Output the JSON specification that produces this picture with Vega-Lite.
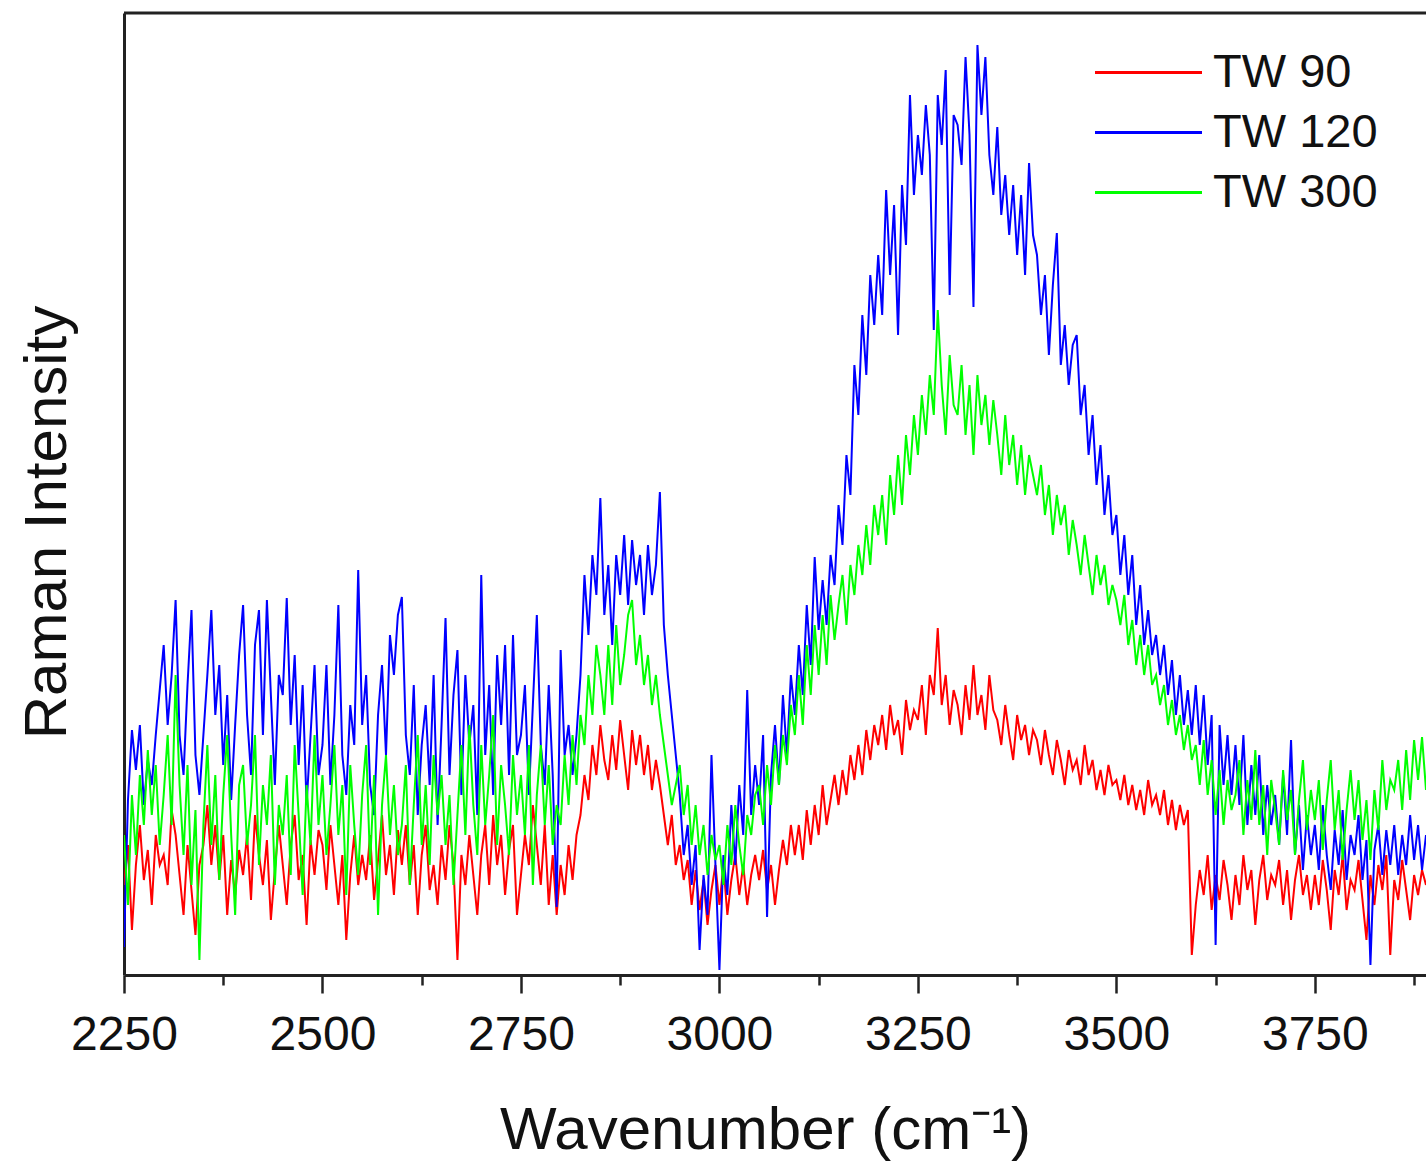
{
"$schema": "https://vega.github.io/schema/vega-lite/v6.json",
"width": 1302, "height": 962,
"autosize": {"type": "none"},
"padding": {"left": 124, "top": 13, "right": 0, "bottom": 190},
"background": "white",
"config": {"view": {"stroke": null}, "font": "Liberation Sans"},
"layer": [
{
"data": {"values": [
{"x":2250,"TW 90":90,"TW 120":28,"TW 300":140},
{"x":2255,"TW 90":130,"TW 120":175,"TW 300":70},
{"x":2260,"TW 90":45,"TW 120":245,"TW 300":180},
{"x":2265,"TW 90":110,"TW 120":205,"TW 300":120},
{"x":2270,"TW 90":150,"TW 120":250,"TW 300":200},
{"x":2275,"TW 90":95,"TW 120":170,"TW 300":150},
{"x":2280,"TW 90":125,"TW 120":215,"TW 300":225},
{"x":2285,"TW 90":70,"TW 120":190,"TW 300":160},
{"x":2290,"TW 90":140,"TW 120":240,"TW 300":210},
{"x":2295,"TW 90":110,"TW 120":285,"TW 300":130},
{"x":2300,"TW 90":120,"TW 120":330,"TW 300":180},
{"x":2305,"TW 90":90,"TW 120":250,"TW 300":240},
{"x":2310,"TW 90":165,"TW 120":300,"TW 300":150},
{"x":2315,"TW 90":140,"TW 120":375,"TW 300":300},
{"x":2320,"TW 90":100,"TW 120":240,"TW 300":190},
{"x":2325,"TW 90":60,"TW 120":200,"TW 300":120},
{"x":2330,"TW 90":130,"TW 120":290,"TW 300":210},
{"x":2335,"TW 90":85,"TW 120":365,"TW 300":90},
{"x":2340,"TW 90":40,"TW 120":220,"TW 300":165},
{"x":2345,"TW 90":110,"TW 120":180,"TW 300":15},
{"x":2350,"TW 90":130,"TW 120":240,"TW 300":150},
{"x":2355,"TW 90":170,"TW 120":300,"TW 300":230},
{"x":2360,"TW 90":110,"TW 120":365,"TW 300":130},
{"x":2365,"TW 90":150,"TW 120":260,"TW 300":200},
{"x":2370,"TW 90":95,"TW 120":310,"TW 300":95},
{"x":2375,"TW 90":140,"TW 120":210,"TW 300":180},
{"x":2380,"TW 90":60,"TW 120":280,"TW 300":240},
{"x":2385,"TW 90":115,"TW 120":175,"TW 300":140},
{"x":2390,"TW 90":80,"TW 120":250,"TW 300":60},
{"x":2395,"TW 90":125,"TW 120":320,"TW 300":190},
{"x":2400,"TW 90":100,"TW 120":370,"TW 300":210},
{"x":2405,"TW 90":140,"TW 120":260,"TW 300":130},
{"x":2410,"TW 90":75,"TW 120":200,"TW 300":170},
{"x":2415,"TW 90":160,"TW 120":330,"TW 300":240},
{"x":2420,"TW 90":120,"TW 120":365,"TW 300":110},
{"x":2425,"TW 90":90,"TW 120":240,"TW 300":190},
{"x":2430,"TW 90":135,"TW 120":375,"TW 300":150},
{"x":2435,"TW 90":55,"TW 120":280,"TW 300":220},
{"x":2440,"TW 90":105,"TW 120":190,"TW 300":90},
{"x":2445,"TW 90":150,"TW 120":300,"TW 300":170},
{"x":2450,"TW 90":110,"TW 120":280,"TW 300":140},
{"x":2455,"TW 90":70,"TW 120":377,"TW 300":200},
{"x":2460,"TW 90":130,"TW 120":250,"TW 300":100},
{"x":2465,"TW 90":160,"TW 120":320,"TW 300":230},
{"x":2470,"TW 90":95,"TW 120":210,"TW 300":160},
{"x":2475,"TW 90":120,"TW 120":290,"TW 300":80},
{"x":2480,"TW 90":50,"TW 120":170,"TW 300":190},
{"x":2485,"TW 90":135,"TW 120":240,"TW 300":130},
{"x":2490,"TW 90":100,"TW 120":310,"TW 300":240},
{"x":2495,"TW 90":145,"TW 120":200,"TW 300":150},
{"x":2500,"TW 90":130,"TW 120":230,"TW 300":200},
{"x":2505,"TW 90":85,"TW 120":310,"TW 300":120},
{"x":2510,"TW 90":150,"TW 120":190,"TW 300":170},
{"x":2515,"TW 90":110,"TW 120":260,"TW 300":230},
{"x":2520,"TW 90":70,"TW 120":370,"TW 300":140},
{"x":2525,"TW 90":120,"TW 120":220,"TW 300":190},
{"x":2530,"TW 90":35,"TW 120":180,"TW 300":80},
{"x":2535,"TW 90":100,"TW 120":270,"TW 300":210},
{"x":2540,"TW 90":140,"TW 120":230,"TW 300":150},
{"x":2545,"TW 90":90,"TW 120":405,"TW 300":100},
{"x":2550,"TW 90":120,"TW 120":250,"TW 300":180},
{"x":2555,"TW 90":95,"TW 120":300,"TW 300":230},
{"x":2560,"TW 90":140,"TW 120":190,"TW 300":110},
{"x":2565,"TW 90":75,"TW 120":160,"TW 300":200},
{"x":2570,"TW 90":115,"TW 120":260,"TW 300":60},
{"x":2575,"TW 90":160,"TW 120":310,"TW 300":170},
{"x":2580,"TW 90":100,"TW 120":220,"TW 300":220},
{"x":2585,"TW 90":130,"TW 120":340,"TW 300":140},
{"x":2590,"TW 90":80,"TW 120":300,"TW 300":190},
{"x":2595,"TW 90":145,"TW 120":360,"TW 300":120},
{"x":2600,"TW 90":110,"TW 120":378,"TW 300":150},
{"x":2605,"TW 90":150,"TW 120":240,"TW 300":210},
{"x":2610,"TW 90":90,"TW 120":200,"TW 300":90},
{"x":2615,"TW 90":130,"TW 120":290,"TW 300":170},
{"x":2620,"TW 90":60,"TW 120":160,"TW 300":240},
{"x":2625,"TW 90":120,"TW 120":230,"TW 300":130},
{"x":2630,"TW 90":150,"TW 120":270,"TW 300":190},
{"x":2635,"TW 90":85,"TW 120":190,"TW 300":110},
{"x":2640,"TW 90":110,"TW 120":300,"TW 300":220},
{"x":2645,"TW 90":70,"TW 120":150,"TW 300":160},
{"x":2650,"TW 90":130,"TW 120":250,"TW 300":200},
{"x":2655,"TW 90":95,"TW 120":357,"TW 300":130},
{"x":2660,"TW 90":150,"TW 120":200,"TW 300":180},
{"x":2665,"TW 90":110,"TW 120":280,"TW 300":90},
{"x":2670,"TW 90":15,"TW 120":325,"TW 300":160},
{"x":2675,"TW 90":120,"TW 120":180,"TW 300":230},
{"x":2680,"TW 90":90,"TW 120":300,"TW 300":140},
{"x":2685,"TW 90":140,"TW 120":230,"TW 300":250},
{"x":2690,"TW 90":100,"TW 120":270,"TW 300":170},
{"x":2695,"TW 90":60,"TW 120":160,"TW 300":120},
{"x":2700,"TW 90":120,"TW 120":400,"TW 300":230},
{"x":2705,"TW 90":150,"TW 120":220,"TW 300":150},
{"x":2710,"TW 90":90,"TW 120":290,"TW 300":200},
{"x":2715,"TW 90":160,"TW 120":180,"TW 300":260},
{"x":2720,"TW 90":110,"TW 120":320,"TW 300":130},
{"x":2725,"TW 90":140,"TW 120":250,"TW 300":210},
{"x":2730,"TW 90":80,"TW 120":330,"TW 300":170},
{"x":2735,"TW 90":125,"TW 120":200,"TW 300":120},
{"x":2740,"TW 90":150,"TW 120":340,"TW 300":220},
{"x":2745,"TW 90":60,"TW 120":220,"TW 300":160},
{"x":2750,"TW 90":100,"TW 120":240,"TW 300":200},
{"x":2755,"TW 90":140,"TW 120":290,"TW 300":140},
{"x":2760,"TW 90":110,"TW 120":180,"TW 300":230},
{"x":2765,"TW 90":170,"TW 120":270,"TW 300":90},
{"x":2770,"TW 90":130,"TW 120":360,"TW 300":180},
{"x":2775,"TW 90":90,"TW 120":230,"TW 300":230},
{"x":2780,"TW 90":150,"TW 120":190,"TW 300":150},
{"x":2785,"TW 90":70,"TW 120":290,"TW 300":210},
{"x":2790,"TW 90":120,"TW 120":200,"TW 300":130},
{"x":2795,"TW 90":60,"TW 120":68,"TW 300":170},
{"x":2800,"TW 90":110,"TW 120":325,"TW 300":150},
{"x":2805,"TW 90":80,"TW 120":220,"TW 300":220},
{"x":2810,"TW 90":130,"TW 120":250,"TW 300":170},
{"x":2815,"TW 90":95,"TW 120":200,"TW 300":240},
{"x":2820,"TW 90":140,"TW 120":240,"TW 300":190},
{"x":2825,"TW 90":160,"TW 120":300,"TW 300":260},
{"x":2830,"TW 90":200,"TW 120":400,"TW 300":230},
{"x":2835,"TW 90":175,"TW 120":340,"TW 300":300},
{"x":2840,"TW 90":230,"TW 120":420,"TW 300":260},
{"x":2845,"TW 90":200,"TW 120":380,"TW 300":330},
{"x":2850,"TW 90":250,"TW 120":477,"TW 300":300},
{"x":2855,"TW 90":215,"TW 120":360,"TW 300":260},
{"x":2860,"TW 90":195,"TW 120":410,"TW 300":330},
{"x":2865,"TW 90":240,"TW 120":330,"TW 300":270},
{"x":2870,"TW 90":205,"TW 120":420,"TW 300":350},
{"x":2875,"TW 90":255,"TW 120":380,"TW 300":290},
{"x":2880,"TW 90":220,"TW 120":440,"TW 300":320},
{"x":2885,"TW 90":185,"TW 120":370,"TW 300":360},
{"x":2890,"TW 90":245,"TW 120":435,"TW 300":375},
{"x":2895,"TW 90":210,"TW 120":390,"TW 300":310},
{"x":2900,"TW 90":240,"TW 120":420,"TW 300":340},
{"x":2905,"TW 90":200,"TW 120":360,"TW 300":290},
{"x":2910,"TW 90":230,"TW 120":430,"TW 300":320},
{"x":2915,"TW 90":185,"TW 120":380,"TW 300":270},
{"x":2920,"TW 90":215,"TW 120":410,"TW 300":300},
{"x":2925,"TW 90":190,"TW 120":483,"TW 300":260},
{"x":2930,"TW 90":160,"TW 120":350,"TW 300":230},
{"x":2935,"TW 90":130,"TW 120":300,"TW 300":200},
{"x":2940,"TW 90":160,"TW 120":260,"TW 300":170},
{"x":2945,"TW 90":110,"TW 120":220,"TW 300":190},
{"x":2950,"TW 90":130,"TW 120":180,"TW 300":210},
{"x":2955,"TW 90":95,"TW 120":120,"TW 300":160},
{"x":2960,"TW 90":115,"TW 120":150,"TW 300":190},
{"x":2965,"TW 90":70,"TW 120":90,"TW 300":130},
{"x":2970,"TW 90":105,"TW 120":130,"TW 300":170},
{"x":2975,"TW 90":65,"TW 120":25,"TW 300":120},
{"x":2980,"TW 90":95,"TW 120":100,"TW 300":150},
{"x":2985,"TW 90":50,"TW 120":60,"TW 300":100},
{"x":2990,"TW 90":85,"TW 120":220,"TW 300":140},
{"x":2995,"TW 90":110,"TW 120":110,"TW 300":115},
{"x":3000,"TW 90":70,"TW 120":5,"TW 300":130},
{"x":3005,"TW 90":110,"TW 120":120,"TW 300":90},
{"x":3010,"TW 90":60,"TW 120":80,"TW 300":150},
{"x":3015,"TW 90":95,"TW 120":170,"TW 300":110},
{"x":3020,"TW 90":120,"TW 120":110,"TW 300":170},
{"x":3025,"TW 90":80,"TW 120":190,"TW 300":130},
{"x":3030,"TW 90":110,"TW 120":140,"TW 300":100},
{"x":3035,"TW 90":70,"TW 120":285,"TW 300":160},
{"x":3040,"TW 90":100,"TW 120":160,"TW 300":140},
{"x":3045,"TW 90":120,"TW 120":210,"TW 300":180},
{"x":3050,"TW 90":95,"TW 120":170,"TW 300":190},
{"x":3055,"TW 90":125,"TW 120":240,"TW 300":150},
{"x":3060,"TW 90":85,"TW 120":58,"TW 300":210},
{"x":3065,"TW 90":110,"TW 120":200,"TW 300":170},
{"x":3070,"TW 90":70,"TW 120":250,"TW 300":230},
{"x":3075,"TW 90":105,"TW 120":190,"TW 300":190},
{"x":3080,"TW 90":135,"TW 120":280,"TW 300":240},
{"x":3085,"TW 90":110,"TW 120":220,"TW 300":210},
{"x":3090,"TW 90":150,"TW 120":300,"TW 300":270},
{"x":3095,"TW 90":120,"TW 120":260,"TW 300":240},
{"x":3100,"TW 90":150,"TW 120":330,"TW 300":300},
{"x":3105,"TW 90":115,"TW 120":280,"TW 300":250},
{"x":3110,"TW 90":165,"TW 120":370,"TW 300":330},
{"x":3115,"TW 90":130,"TW 120":310,"TW 300":280},
{"x":3120,"TW 90":170,"TW 120":418,"TW 300":350},
{"x":3125,"TW 90":140,"TW 120":345,"TW 300":300},
{"x":3130,"TW 90":190,"TW 120":395,"TW 300":360},
{"x":3135,"TW 90":150,"TW 120":350,"TW 300":310},
{"x":3140,"TW 90":175,"TW 120":420,"TW 300":380},
{"x":3145,"TW 90":200,"TW 120":390,"TW 300":335},
{"x":3150,"TW 90":170,"TW 120":470,"TW 300":370},
{"x":3155,"TW 90":205,"TW 120":430,"TW 300":400},
{"x":3160,"TW 90":180,"TW 120":520,"TW 300":350},
{"x":3165,"TW 90":220,"TW 120":480,"TW 300":410},
{"x":3170,"TW 90":195,"TW 120":610,"TW 300":380},
{"x":3175,"TW 90":230,"TW 120":560,"TW 300":430},
{"x":3180,"TW 90":200,"TW 120":660,"TW 300":400},
{"x":3185,"TW 90":245,"TW 120":600,"TW 300":450},
{"x":3190,"TW 90":215,"TW 120":700,"TW 300":410},
{"x":3195,"TW 90":250,"TW 120":650,"TW 300":470},
{"x":3200,"TW 90":230,"TW 120":720,"TW 300":440},
{"x":3205,"TW 90":260,"TW 120":660,"TW 300":480},
{"x":3210,"TW 90":225,"TW 120":785,"TW 300":430},
{"x":3215,"TW 90":270,"TW 120":700,"TW 300":500},
{"x":3220,"TW 90":240,"TW 120":770,"TW 300":460},
{"x":3225,"TW 90":255,"TW 120":640,"TW 300":520},
{"x":3230,"TW 90":220,"TW 120":790,"TW 300":470},
{"x":3235,"TW 90":275,"TW 120":730,"TW 300":540},
{"x":3240,"TW 90":245,"TW 120":880,"TW 300":500},
{"x":3245,"TW 90":265,"TW 120":780,"TW 300":560},
{"x":3250,"TW 90":255,"TW 120":840,"TW 300":520},
{"x":3255,"TW 90":290,"TW 120":800,"TW 300":580},
{"x":3260,"TW 90":240,"TW 120":870,"TW 300":540},
{"x":3265,"TW 90":300,"TW 120":820,"TW 300":600},
{"x":3270,"TW 90":280,"TW 120":645,"TW 300":560},
{"x":3275,"TW 90":347,"TW 120":880,"TW 300":665},
{"x":3280,"TW 90":270,"TW 120":830,"TW 300":590},
{"x":3285,"TW 90":300,"TW 120":905,"TW 300":540},
{"x":3290,"TW 90":250,"TW 120":680,"TW 300":620},
{"x":3295,"TW 90":285,"TW 120":860,"TW 300":570},
{"x":3300,"TW 90":270,"TW 120":850,"TW 300":560},
{"x":3305,"TW 90":240,"TW 120":810,"TW 300":610},
{"x":3310,"TW 90":290,"TW 120":918,"TW 300":540},
{"x":3315,"TW 90":255,"TW 120":840,"TW 300":590},
{"x":3320,"TW 90":310,"TW 120":668,"TW 300":520},
{"x":3325,"TW 90":260,"TW 120":930,"TW 300":600},
{"x":3330,"TW 90":280,"TW 120":860,"TW 300":550},
{"x":3335,"TW 90":245,"TW 120":918,"TW 300":580},
{"x":3340,"TW 90":300,"TW 120":820,"TW 300":530},
{"x":3345,"TW 90":265,"TW 120":780,"TW 300":575},
{"x":3350,"TW 90":255,"TW 120":848,"TW 300":540},
{"x":3355,"TW 90":230,"TW 120":760,"TW 300":500},
{"x":3360,"TW 90":270,"TW 120":800,"TW 300":560},
{"x":3365,"TW 90":240,"TW 120":740,"TW 300":510},
{"x":3370,"TW 90":215,"TW 120":790,"TW 300":540},
{"x":3375,"TW 90":260,"TW 120":720,"TW 300":490},
{"x":3380,"TW 90":235,"TW 120":780,"TW 300":530},
{"x":3385,"TW 90":250,"TW 120":700,"TW 300":480},
{"x":3390,"TW 90":220,"TW 120":812,"TW 300":520},
{"x":3395,"TW 90":245,"TW 120":740,"TW 300":500},
{"x":3400,"TW 90":235,"TW 120":720,"TW 300":480},
{"x":3405,"TW 90":210,"TW 120":660,"TW 300":510},
{"x":3410,"TW 90":245,"TW 120":700,"TW 300":460},
{"x":3415,"TW 90":220,"TW 120":620,"TW 300":490},
{"x":3420,"TW 90":200,"TW 120":690,"TW 300":440},
{"x":3425,"TW 90":235,"TW 120":742,"TW 300":480},
{"x":3430,"TW 90":215,"TW 120":610,"TW 300":450},
{"x":3435,"TW 90":190,"TW 120":650,"TW 300":470},
{"x":3440,"TW 90":225,"TW 120":590,"TW 300":420},
{"x":3445,"TW 90":205,"TW 120":630,"TW 300":455},
{"x":3450,"TW 90":215,"TW 120":640,"TW 300":430},
{"x":3455,"TW 90":190,"TW 120":560,"TW 300":400},
{"x":3460,"TW 90":230,"TW 120":590,"TW 300":440},
{"x":3465,"TW 90":200,"TW 120":520,"TW 300":410},
{"x":3470,"TW 90":215,"TW 120":560,"TW 300":380},
{"x":3475,"TW 90":185,"TW 120":490,"TW 300":420},
{"x":3480,"TW 90":205,"TW 120":530,"TW 300":390},
{"x":3485,"TW 90":180,"TW 120":460,"TW 300":410},
{"x":3490,"TW 90":210,"TW 120":500,"TW 300":370},
{"x":3495,"TW 90":190,"TW 120":440,"TW 300":390},
{"x":3500,"TW 90":195,"TW 120":460,"TW 300":375},
{"x":3505,"TW 90":175,"TW 120":400,"TW 300":350},
{"x":3510,"TW 90":200,"TW 120":440,"TW 300":380},
{"x":3515,"TW 90":170,"TW 120":380,"TW 300":330},
{"x":3520,"TW 90":190,"TW 120":420,"TW 300":355},
{"x":3525,"TW 90":165,"TW 120":350,"TW 300":310},
{"x":3530,"TW 90":185,"TW 120":390,"TW 300":340},
{"x":3535,"TW 90":160,"TW 120":330,"TW 300":300},
{"x":3540,"TW 90":195,"TW 120":365,"TW 300":330},
{"x":3545,"TW 90":170,"TW 120":320,"TW 300":290},
{"x":3550,"TW 90":180,"TW 120":340,"TW 300":300},
{"x":3555,"TW 90":160,"TW 120":300,"TW 300":270},
{"x":3560,"TW 90":185,"TW 120":330,"TW 300":290},
{"x":3565,"TW 90":150,"TW 120":280,"TW 300":250},
{"x":3570,"TW 90":175,"TW 120":315,"TW 300":275},
{"x":3575,"TW 90":145,"TW 120":260,"TW 300":240},
{"x":3580,"TW 90":170,"TW 120":300,"TW 300":260},
{"x":3585,"TW 90":150,"TW 120":250,"TW 300":225},
{"x":3590,"TW 90":165,"TW 120":285,"TW 300":250},
{"x":3595,"TW 90":20,"TW 120":240,"TW 300":215},
{"x":3600,"TW 90":70,"TW 120":290,"TW 300":230},
{"x":3605,"TW 90":105,"TW 120":230,"TW 300":190},
{"x":3610,"TW 90":80,"TW 120":280,"TW 300":235},
{"x":3615,"TW 90":120,"TW 120":210,"TW 300":180},
{"x":3620,"TW 90":65,"TW 120":260,"TW 300":215},
{"x":3625,"TW 90":100,"TW 120":30,"TW 300":160},
{"x":3630,"TW 90":75,"TW 120":250,"TW 300":205},
{"x":3635,"TW 90":115,"TW 120":190,"TW 300":150},
{"x":3640,"TW 90":90,"TW 120":240,"TW 300":195},
{"x":3645,"TW 90":55,"TW 120":180,"TW 300":165},
{"x":3650,"TW 90":100,"TW 120":230,"TW 300":180},
{"x":3655,"TW 90":70,"TW 120":170,"TW 300":215},
{"x":3660,"TW 90":120,"TW 120":240,"TW 300":140},
{"x":3665,"TW 90":85,"TW 120":150,"TW 300":195},
{"x":3670,"TW 90":105,"TW 120":210,"TW 300":155},
{"x":3675,"TW 90":50,"TW 120":160,"TW 300":225},
{"x":3680,"TW 90":95,"TW 120":220,"TW 300":150},
{"x":3685,"TW 90":120,"TW 120":140,"TW 300":190},
{"x":3690,"TW 90":75,"TW 120":190,"TW 300":120},
{"x":3695,"TW 90":100,"TW 120":150,"TW 300":195},
{"x":3700,"TW 90":90,"TW 120":180,"TW 300":165},
{"x":3705,"TW 90":115,"TW 120":130,"TW 300":130},
{"x":3710,"TW 90":70,"TW 120":200,"TW 300":205},
{"x":3715,"TW 90":105,"TW 120":140,"TW 300":155},
{"x":3720,"TW 90":55,"TW 120":235,"TW 300":185},
{"x":3725,"TW 90":95,"TW 120":120,"TW 300":120},
{"x":3730,"TW 90":120,"TW 120":170,"TW 300":175},
{"x":3735,"TW 90":80,"TW 120":105,"TW 300":215},
{"x":3740,"TW 90":100,"TW 120":160,"TW 300":145},
{"x":3745,"TW 90":65,"TW 120":120,"TW 300":185},
{"x":3750,"TW 90":100,"TW 120":150,"TW 300":155},
{"x":3755,"TW 90":70,"TW 120":105,"TW 300":195},
{"x":3760,"TW 90":115,"TW 120":170,"TW 300":125},
{"x":3765,"TW 90":85,"TW 120":120,"TW 300":175},
{"x":3770,"TW 90":45,"TW 120":85,"TW 300":215},
{"x":3775,"TW 90":105,"TW 120":145,"TW 300":145},
{"x":3780,"TW 90":80,"TW 120":110,"TW 300":185},
{"x":3785,"TW 90":120,"TW 120":165,"TW 300":115},
{"x":3790,"TW 90":65,"TW 120":95,"TW 300":165},
{"x":3795,"TW 90":95,"TW 120":140,"TW 300":205},
{"x":3800,"TW 90":85,"TW 120":120,"TW 300":155},
{"x":3805,"TW 90":115,"TW 120":160,"TW 300":195},
{"x":3810,"TW 90":75,"TW 120":95,"TW 300":135},
{"x":3815,"TW 90":35,"TW 120":135,"TW 300":175},
{"x":3820,"TW 90":100,"TW 120":10,"TW 300":115},
{"x":3825,"TW 90":70,"TW 120":125,"TW 300":185},
{"x":3830,"TW 90":110,"TW 120":150,"TW 300":145},
{"x":3835,"TW 90":85,"TW 120":100,"TW 300":215},
{"x":3840,"TW 90":120,"TW 120":145,"TW 300":165},
{"x":3845,"TW 90":20,"TW 120":110,"TW 300":195},
{"x":3850,"TW 90":95,"TW 120":150,"TW 300":185},
{"x":3855,"TW 90":75,"TW 120":100,"TW 300":215},
{"x":3860,"TW 90":115,"TW 120":140,"TW 300":165},
{"x":3865,"TW 90":85,"TW 120":110,"TW 300":225},
{"x":3870,"TW 90":55,"TW 120":160,"TW 300":175},
{"x":3875,"TW 90":100,"TW 120":115,"TW 300":235},
{"x":3880,"TW 90":80,"TW 120":150,"TW 300":195},
{"x":3885,"TW 90":105,"TW 120":105,"TW 300":238},
{"x":3890,"TW 90":90,"TW 120":140,"TW 300":185}
]},
"transform": [{"fold": ["TW 90", "TW 120", "TW 300"], "as": ["series", "intensity"]}],
"mark": {"type": "line", "strokeWidth": 2, "clip": true},
"encoding": {
"x": {"field": "x", "type": "quantitative",
"scale": {"domain": [2250, 3890], "nice": false, "zero": false},
"axis": {"values": [2250,2375,2500,2625,2750,2875,3000,3125,3250,3375,3500,3625,3750,3875],
"format": "d",
"labelExpr": "datum.value % 250 === 0 ? datum.label : ''",
"tickSize": {"condition": {"test": "datum.value % 250 === 0", "value": 18}, "value": 10},
"tickWidth": 2.5, "tickColor": "#222", "domainColor": "#222", "domainWidth": 3,
"grid": false, "labelFontSize": 48, "labelColor": "#111", "labelPadding": 18,
"labelFlush": false, "labelOverlap": false, "labelFont": "Liberation Sans",
"title": "Wavenumber (cm⁻¹)", "titleFontSize": 60, "titleFontWeight": "normal", "titleColor": "#111",
"titleFont": "Liberation Sans", "titleX": 641, "titleY": 173, "titleBaseline": "alphabetic", "titleAlign": "center"}},
"y": {"field": "intensity", "type": "quantitative",
"scale": {"domain": [0, 962], "nice": false, "zero": false},
"axis": {"ticks": false, "labels": false, "grid": false, "domainColor": "#222", "domainWidth": 3,
"title": "Raman Intensity", "titleFontSize": 60, "titleFontWeight": "normal", "titleColor": "#111",
"titleFont": "Liberation Sans", "titleAngle": -90, "titleX": -59, "titleY": 509,
"titleAlign": "center", "titleBaseline": "alphabetic"}},
"color": {"field": "series", "type": "nominal",
"scale": {"domain": ["TW 90", "TW 120", "TW 300"], "range": ["#ff0000", "#0000ff", "#00ff00"]},
"legend": {"orient": "none", "legendX": 1001, "legendY": 36, "title": null,
"symbolType": "M-3,0H3", "symbolSize": 1272, "symbolStrokeWidth": 3,
"labelFontSize": 47, "labelColor": "#111", "labelFont": "Liberation Sans", "labelLimit": 0,
"labelOffset": 41, "rowPadding": 12, "padding": 0}}
}
},
{
"data": {"values": [{}]},
"mark": {"type": "rule", "color": "#222", "strokeWidth": 3},
"encoding": {"y": {"datum": 962}}
}
]
}
